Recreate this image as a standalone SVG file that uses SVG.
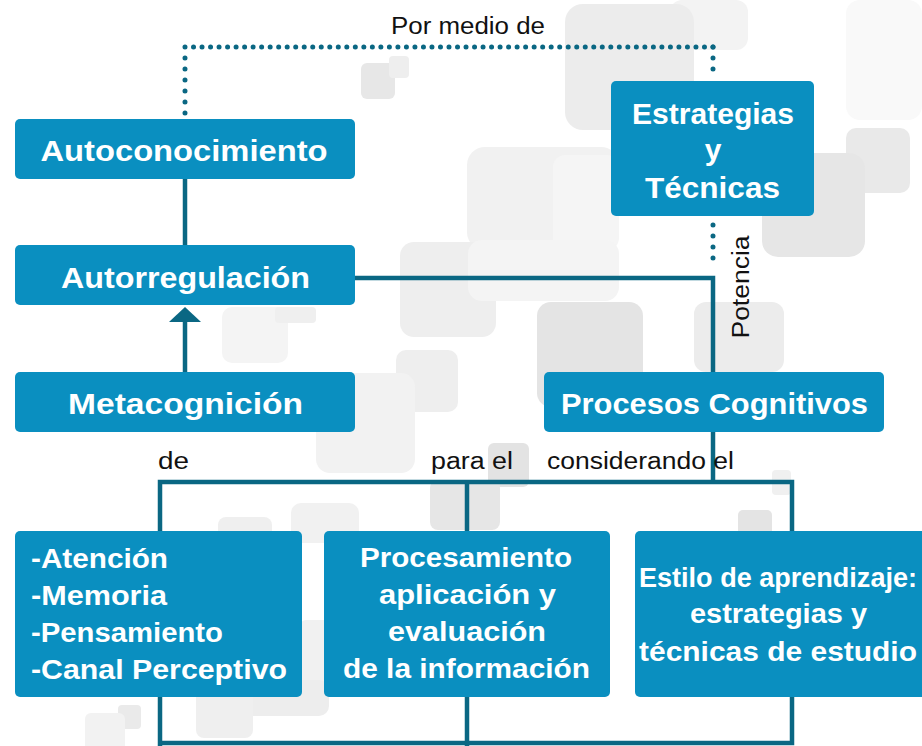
<svg xmlns="http://www.w3.org/2000/svg" width="922" height="746" viewBox="0 0 922 746">
<style>
.bg{stroke:none}
.box{fill:#0a8fc0}
.t{font-family:"Liberation Sans",Arial,sans-serif;font-weight:bold;fill:#ffffff;font-size:30px;text-anchor:middle}
.s{font-family:"Liberation Sans",Arial,sans-serif;font-weight:bold;fill:#ffffff;font-size:27px}
.sm{text-anchor:middle}
.lbl{font-family:"Liberation Sans",Arial,sans-serif;fill:#111111;font-size:23px}
.ln{fill:none;stroke:#0a6783;stroke-width:4.5}
.dot{fill:none;stroke:#0a6783;stroke-width:5;stroke-linecap:round}
</style>
<rect width="922" height="746" fill="#ffffff"/>
<g id="background">
<rect class="bg" x="846" y="0" width="76" height="120" rx="14" fill="#f9f9f9"/>
<rect class="bg" x="670" y="0" width="78" height="50" rx="12" fill="#f3f3f3"/>
<rect class="bg" x="565" y="4" width="129" height="126" rx="18" fill="#ececec"/>
<rect class="bg" x="361" y="63" width="34" height="36" rx="6" fill="#e7e7e7"/>
<rect class="bg" x="389" y="56" width="20" height="22" rx="4" fill="#eeeeee"/>
<rect class="bg" x="846" y="128" width="64" height="65" rx="10" fill="#e9e9e9"/>
<rect class="bg" x="762" y="153" width="103" height="104" rx="16" fill="#e6e6e6"/>
<rect class="bg" x="467" y="147" width="152" height="103" rx="18" fill="#f1f1f1"/>
<rect class="bg" x="553" y="155" width="66" height="95" rx="12" fill="#f5f5f5"/>
<rect class="bg" x="400" y="242" width="96" height="95" rx="14" fill="#eeeeee"/>
<rect class="bg" x="468" y="240" width="151" height="61" rx="14" fill="#f4f4f4"/>
<rect class="bg" x="537" y="302" width="106" height="105" rx="14" fill="#e4e4e4"/>
<rect class="bg" x="694" y="302" width="90" height="70" rx="12" fill="#ececec"/>
<rect class="bg" x="222" y="307" width="66" height="56" rx="10" fill="#f4f4f4"/>
<rect class="bg" x="275" y="307" width="41" height="16" rx="4" fill="#efefef"/>
<rect class="bg" x="396" y="350" width="62" height="62" rx="10" fill="#eeeeee"/>
<rect class="bg" x="316" y="373" width="99" height="100" rx="14" fill="#f2f2f2"/>
<rect class="bg" x="488" y="443" width="41" height="44" rx="6" fill="#e3e3e3"/>
<rect class="bg" x="430" y="480" width="70" height="50" rx="8" fill="#e6e6e6"/>
<rect class="bg" x="291" y="503" width="68" height="40" rx="10" fill="#f1f1f1"/>
<rect class="bg" x="218" y="517" width="54" height="30" rx="8" fill="#efefef"/>
<rect class="bg" x="738" y="510" width="34" height="30" rx="5" fill="#e4e4e4"/>
<rect class="bg" x="772" y="470" width="19" height="25" rx="4" fill="#f0f0f0"/>
<rect class="bg" x="300" y="620" width="30" height="77" rx="6" fill="#f1f1f1"/>
<rect class="bg" x="235" y="680" width="94" height="36" rx="10" fill="#ededed"/>
<rect class="bg" x="196" y="690" width="57" height="48" rx="8" fill="#efefef"/>
<rect class="bg" x="118" y="705" width="23" height="24" rx="4" fill="#eaeaea"/>
<rect class="bg" x="85" y="713" width="40" height="40" rx="6" fill="#f2f2f2"/>
</g>
<g id="connectors">
<path class="ln" d="M185,179 V245"/>
<path class="ln" d="M185,372 V320"/>
<polygon points="185,307 169,322 201,322" fill="#0a6783"/>
<path class="ln" d="M355,278 H713 V372"/>
<path class="ln" d="M713,432 V482"/>
<path class="ln" d="M160,746 V482 H792 V743 H160"/>
<path class="ln" d="M467,482 V746"/>
<path class="dot" d="M185,113 V47" stroke-dasharray="0 11"/>
<path class="dot" d="M185,47 H713" stroke-dasharray="0 8.516"/>
<path class="dot" d="M713,47 V80" stroke-dasharray="0 11"/>
<path class="dot" d="M713,225 V269" stroke-dasharray="0 11"/>
<text class="lbl" x="468" y="34" text-anchor="middle" textLength="154" lengthAdjust="spacingAndGlyphs">Por medio de</text>
<text class="lbl" transform="translate(749,287) rotate(-90)" text-anchor="middle" textLength="103" lengthAdjust="spacingAndGlyphs">Potencia</text>
<text class="lbl" x="158" y="469" textLength="31" lengthAdjust="spacingAndGlyphs">de</text>
<text class="lbl" x="431" y="469" textLength="82" lengthAdjust="spacingAndGlyphs">para el</text>
<text class="lbl" x="547" y="469" textLength="187" lengthAdjust="spacingAndGlyphs">considerando el</text>
</g>
<g id="autoconocimiento">
<rect class="box" x="15" y="119" width="340" height="60" rx="5"/>
<text class="t" x="184" y="161" textLength="287" lengthAdjust="spacingAndGlyphs">Autoconocimiento</text>
</g>
<g id="autorregulacion">
<rect class="box" x="15" y="245" width="340" height="60" rx="5"/>
<text class="t" x="185.5" y="288" textLength="249" lengthAdjust="spacingAndGlyphs">Autorregulación</text>
</g>
<g id="metacognicion">
<rect class="box" x="15" y="372" width="340" height="60" rx="5"/>
<text class="t" x="185.5" y="414" textLength="235" lengthAdjust="spacingAndGlyphs">Metacognición</text>
</g>
<g id="estrategias">
<rect class="box" x="611" y="81" width="203" height="135" rx="5"/>
<text class="t" x="713" y="124" textLength="162" lengthAdjust="spacingAndGlyphs">Estrategias</text>
<text class="t" x="713" y="160">y</text>
<text class="t" x="712.5" y="198" textLength="135" lengthAdjust="spacingAndGlyphs">Técnicas</text>
</g>
<g id="procesos-cognitivos">
<rect class="box" x="544" y="372" width="340" height="60" rx="5"/>
<text class="t" x="714.5" y="414" textLength="307" lengthAdjust="spacingAndGlyphs">Procesos Cognitivos</text>
</g>
<g id="lista">
<rect class="box" x="15" y="531" width="287" height="166" rx="5"/>
<text class="s" x="31" y="568" textLength="137" lengthAdjust="spacingAndGlyphs">-Atención</text>
<text class="s" x="31" y="605" textLength="136" lengthAdjust="spacingAndGlyphs">-Memoria</text>
<text class="s" x="31" y="642" textLength="192" lengthAdjust="spacingAndGlyphs">-Pensamiento</text>
<text class="s" x="31" y="679" textLength="256" lengthAdjust="spacingAndGlyphs">-Canal Perceptivo</text>
</g>
<g id="procesamiento">
<rect class="box" x="324" y="531" width="286" height="166" rx="5"/>
<text class="s sm" x="466" y="567" textLength="212" lengthAdjust="spacingAndGlyphs">Procesamiento</text>
<text class="s sm" x="467.5" y="604" textLength="177" lengthAdjust="spacingAndGlyphs">aplicación y</text>
<text class="s sm" x="467" y="641" textLength="158" lengthAdjust="spacingAndGlyphs">evaluación</text>
<text class="s sm" x="466.5" y="678" textLength="247" lengthAdjust="spacingAndGlyphs">de la información</text>
</g>
<g id="estilo">
<rect class="box" x="635" y="531" width="292" height="166" rx="5"/>
<text class="s sm" x="778" y="587" textLength="278" lengthAdjust="spacingAndGlyphs">Estilo de aprendizaje:</text>
<text class="s sm" x="778.5" y="623" textLength="177" lengthAdjust="spacingAndGlyphs">estrategias y</text>
<text class="s sm" x="778" y="661" textLength="278" lengthAdjust="spacingAndGlyphs">técnicas de estudio</text>
</g>
</svg>
